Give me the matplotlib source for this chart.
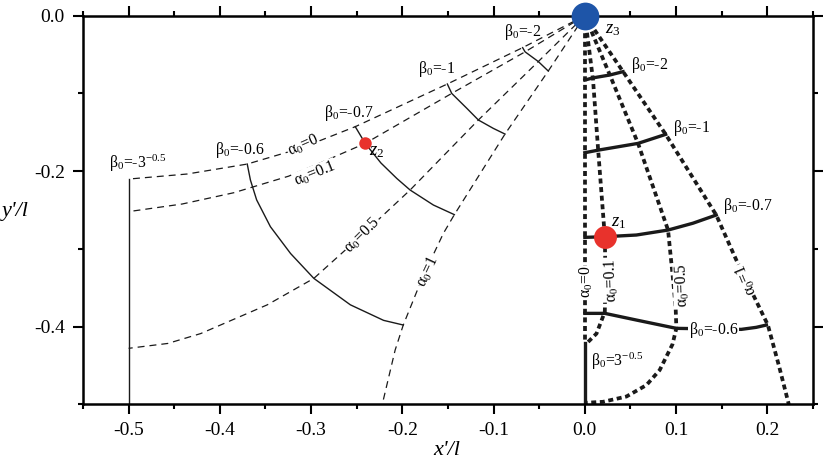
import matplotlib.pyplot as plt
from matplotlib.ticker import MultipleLocator

plt.rcParams['font.family'] = ['Liberation Serif', 'DejaVu Serif']
plt.rcParams['mathtext.fontset'] = 'custom'
plt.rcParams['mathtext.rm'] = 'Liberation Serif'
plt.rcParams['mathtext.it'] = 'Liberation Serif:italic'
plt.rcParams['axes.unicode_minus'] = False
plt.rcParams['lines.scale_dashes'] = False

# ---- left family (thin lines) ----
# alpha0 curves (dashed)
l_a0_x = [0, -0.068, -0.1507, -0.2516, -0.3118, -0.370, -0.4358, -0.5]
l_a0_y = [0, -0.041, -0.0879, -0.1428, -0.1707, -0.1909, -0.2037, -0.2102]
l_a01_x = [0, -0.0655, -0.1459, -0.2407, -0.290, -0.3247, -0.3848, -0.4413, -0.5]
l_a01_y = [0, -0.0465, -0.100, -0.1643, -0.1895, -0.2065, -0.2278, -0.2423, -0.2521]
l_a05_x = [0, -0.051, -0.1167, -0.1915, -0.245, -0.297, -0.348, -0.421, -0.457, -0.5]
l_a05_y = [0, -0.059, -0.1342, -0.2243, -0.283, -0.338, -0.372, -0.409, -0.4217, -0.428]
l_a1_x = [0, -0.0401, -0.0875, -0.143, -0.155, -0.178, -0.199, -0.2079, -0.222]
l_a1_y = [0, -0.0712, -0.1523, -0.256, -0.280, -0.337, -0.398, -0.4302, -0.5]

# beta0 curves (solid)
l_b2_x = [-0.0682, -0.0655, -0.051, -0.0401]
l_b2_y = [-0.0411, -0.0465, -0.059, -0.0712]
l_b1_x = [-0.1507, -0.1459, -0.1295, -0.1167, -0.1003, -0.0875]
l_b1_y = [-0.0879, -0.100, -0.119, -0.1342, -0.145, -0.1523]
l_b07_x = [-0.2516, -0.2407, -0.2235, -0.206, -0.1915, -0.166, -0.143]
l_b07_y = [-0.1428, -0.1643, -0.1895, -0.2095, -0.2243, -0.2436, -0.256]
l_b06_x = [-0.370, -0.3665, -0.3597, -0.3446, -0.3225, -0.297, -0.257, -0.2206, -0.199]
l_b06_y = [-0.1909, -0.2115, -0.237, -0.2715, -0.306, -0.338, -0.372, -0.392, -0.398]
l_b3_x = [-0.5, -0.5]
l_b3_y = [-0.2102, -0.5]

# ---- right family (thick lines) ----
r_a0_x = [0, 0]
r_a0_y = [0, -0.4216]
r_a01_x = [0, 0.009, 0.0146, 0.0219, 0.0225, 0.0219, 0.0128, 0.002]
r_a01_y = [0, -0.0828, -0.173, -0.2844, -0.33, -0.381, -0.409, -0.4216]
r_a05_x = [0, 0.0274, 0.0583, 0.0912, 0.0967, 0.0995, 0.1003, 0.096, 0.082, 0.0675, 0.0456, 0.020, 0.002]
r_a05_y = [0, -0.0763, -0.1643, -0.2758, -0.340, -0.375, -0.4023, -0.423, -0.456, -0.4753, -0.490, -0.4968, -0.498]
r_a1_x = [0, 0.0419, 0.0886, 0.144, 0.166, 0.2006, 0.213, 0.2235]
r_a1_y = [0, -0.072, -0.1527, -0.2565, -0.3144, -0.398, -0.4517, -0.5]

r_b2_x = [0, 0.009, 0.0274, 0.0419]
r_b2_y = [-0.0828, -0.080, -0.0763, -0.072]
r_b1_x = [0, 0.0146, 0.0583, 0.0886]
r_b1_y = [-0.1763, -0.173, -0.1643, -0.1527]
r_b07_x = [0, 0.0219, 0.0565, 0.0912, 0.1185, 0.144]
r_b07_y = [-0.2852, -0.2844, -0.2822, -0.2758, -0.267, -0.2565]
r_b06_x = [0, 0.0219, 0.0565, 0.1003, 0.1714, 0.1878, 0.199]
r_b06_y = [-0.383, -0.383, -0.3916, -0.4023, -0.4036, -0.401, -0.398]
r_b3_x = [0, 0]
r_b3_y = [-0.4216, -0.5]

# special points
z3 = (0.0, 0.0)
z1 = (0.0219, -0.2844)
z2 = (-0.2407, -0.1643)

fig = plt.figure(figsize=(8.25, 4.63), dpi=100)
ax = fig.add_axes([0.1006, 0.1268, 0.8848, 0.8393])

thin_dash = dict(color='#1a1a1a', lw=0.9, dashes=(5, 3.6))
thin = dict(color='#1a1a1a', lw=1.0)
thick_dash = dict(color='#1a1a1a', lw=2.7, dashes=(3.6, 2.6))
thick = dict(color='#1a1a1a', lw=2.4)

for xs, ys in [(l_a0_x, l_a0_y), (l_a01_x, l_a01_y), (l_a05_x, l_a05_y), (l_a1_x, l_a1_y)]:
    ax.plot(xs, ys, **thin_dash)
for xs, ys in [(l_b2_x, l_b2_y), (l_b1_x, l_b1_y), (l_b07_x, l_b07_y), (l_b06_x, l_b06_y), (l_b3_x, l_b3_y)]:
    ax.plot(xs, ys, **thin)

for xs, ys in [(r_a0_x, r_a0_y), (r_a01_x, r_a01_y), (r_a05_x, r_a05_y), (r_a1_x, r_a1_y)]:
    ax.plot(xs, ys, **thick_dash)
for xs, ys in [(r_b2_x, r_b2_y), (r_b1_x, r_b1_y), (r_b07_x, r_b07_y), (r_b06_x, r_b06_y), (r_b3_x, r_b3_y)]:
    ax.plot(xs, ys, **thick)

ax.plot(*z3, 'o', ms=20, color='#1e55a8', mec='none', clip_on=False, zorder=10)
ax.plot(*z1, 'o', ms=16.5, color='#e8322c', mec='none', zorder=10)
ax.plot(*z2, 'o', ms=9, color='#e8322c', mec='none', zorder=10)

fs = 11.3
wb = dict(fc='white', ec='none', pad=0.3)

# left labels
ax.text(-0.521, -0.190, r'$\mathrm{β}_0$=-3$^{-0.5}$', fontsize=fs, va='center')
ax.text(-0.405, -0.173, r'$\mathrm{β}_0$=-0.6', fontsize=fs, va='center')
ax.text(-0.2863, -0.1246, r'$\mathrm{β}_0$=-0.7', fontsize=fs, va='center')
ax.text(-0.183, -0.069, r'$\mathrm{β}_0$=-1', fontsize=fs, va='center')
ax.text(-0.089, -0.021, r'$\mathrm{β}_0$=-2', fontsize=fs, va='center')
ax.text(-0.309, -0.1664, r'$\mathrm{α}_0$=0', fontsize=fs, rotation=24, ha='center', va='center', bbox=wb)
ax.text(-0.2954, -0.2037, r'$\mathrm{α}_0$=0.1', fontsize=fs, rotation=22, ha='center', va='center', bbox=wb)
ax.text(-0.244, -0.282, r'$\mathrm{α}_0$=0.5', fontsize=fs, rotation=45, ha='center', va='center', bbox=wb)
ax.text(-0.172, -0.329, r'$\mathrm{α}_0$=1', fontsize=fs, rotation=65, ha='center', va='center', bbox=wb)
ax.text(-0.2371, -0.1741, r'$z_2$', fontsize=13.5, va='center')

# right labels
ax.text(0.051, -0.0635, r'$\mathrm{β}_0$=-2', fontsize=fs, va='center')
ax.text(0.0963, -0.145, r'$\mathrm{β}_0$=-1', fontsize=fs, va='center')
ax.text(0.151, -0.245, r'$\mathrm{β}_0$=-0.7', fontsize=fs, va='center')
ax.text(0.141, -0.405, r'$\mathrm{β}_0$=-0.6', fontsize=fs, ha='center', va='center', bbox=wb)
ax.text(0.007, -0.445, r'$\mathrm{β}_0$=3$^{-0.5}$', fontsize=fs, va='center')
ax.text(0.002, -0.343, r'$\mathrm{α}_0$=0', fontsize=fs, rotation=90, ha='center', va='center', bbox=wb)
ax.text(0.029, -0.340, r'$\mathrm{α}_0$=0.1', fontsize=fs, rotation=92, ha='center', va='center', bbox=wb)
ax.text(0.1067, -0.347, r'$\mathrm{α}_0$=0.5', fontsize=fs, rotation=92, ha='center', va='center', bbox=wb)
ax.text(0.177, -0.339, r'$\mathrm{α}_0$=1', fontsize=fs, rotation=113, ha='center', va='center', bbox=wb)
ax.text(0.022, -0.018, r'$z_3$', fontsize=13.5, va='center')
ax.text(0.029, -0.2655, r'$z_1$', fontsize=13.5, va='center')

ax.set_xlim(-0.55, 0.25)
ax.set_ylim(-0.5, 0.0)
ax.xaxis.set_major_locator(MultipleLocator(0.1))
ax.xaxis.set_minor_locator(MultipleLocator(0.05))
ax.yaxis.set_major_locator(MultipleLocator(0.2))
ax.yaxis.set_minor_locator(MultipleLocator(0.1))
ax.xaxis.set_major_formatter(plt.FuncFormatter(lambda v, p: '%.1f' % v))
ax.yaxis.set_major_formatter(plt.FuncFormatter(lambda v, p: '%.1f' % v))
ax.tick_params(which='both', direction='out', top=True, right=True, width=1.5, labelsize=14)
ax.tick_params(which='major', length=7, pad=6)
ax.tick_params(which='minor', length=3.6)
for s in ax.spines.values():
    s.set_linewidth(1.8)

fig.text(0.542, 0.028, "x'/l", fontsize=16, style='italic', ha='center', va='center')
fig.text(0.018, 0.544, "y'/l", fontsize=16, style='italic', ha='center', va='center')

fig.savefig('out.png', dpi=100)
